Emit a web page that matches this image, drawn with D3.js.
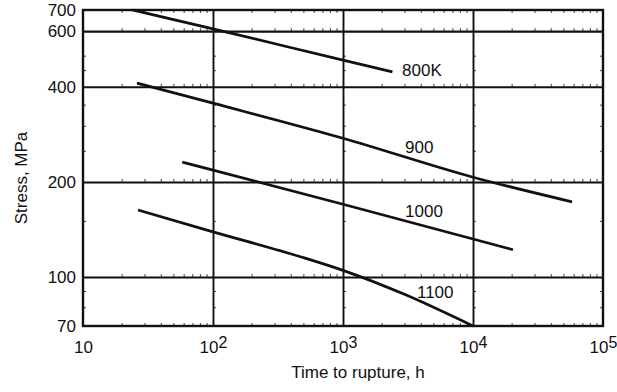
<!DOCTYPE html>
<html>
<head>
<meta charset="utf-8">
<script src="https://cdn.jsdelivr.net/npm/d3@7"></script>
<style>
  html, body { margin: 0; padding: 0; background: #fff; }
  svg { display: block; font-family: "Liberation Sans", Arial, Helvetica, sans-serif; }
</style>
</head>
<body>
<svg id="chart" width="617" height="392"></svg>
<script>
// ---- Data ----
const seriesNames = ["800K", "900", "1000", "1100"];
const times800  = [24, 100, 1000, 2400];
const stress800 = [700, 610, 486, 446];
const times900  = [26, 100, 1000, 10000, 57800];
const stress900 = [411, 355, 275, 207, 173];
const times1000  = [58, 100, 1000, 10000, 20300];
const stress1000 = [231, 218, 170, 132, 122];
const times1100  = [26.5, 100, 470, 1000, 3000, 10000];
const stress1100 = [163, 139, 116, 105, 88, 70];

const labelTimes  = [2845, 3000, 3000, 3706];
const labelStress = [433, 247, 155, 85.8];

const xTickValues = [10, 100, 1000, 10000, 100000];
const xTickBase   = ["10", "10", "10", "10", "10"];
const xTickExp    = ["", "2", "3", "4", "5"];
const yTickValues = [70, 100, 200, 400, 600, 700];
const yGridValues = [100, 200, 400, 600];
const xGridValues = [100, 1000, 10000];
const xMinor = [20, 30, 40, 50, 60, 70, 80, 90, 200, 300, 400, 500, 600, 700, 800, 900,
                2000, 3000, 4000, 5000, 6000, 7000, 8000, 9000, 20000, 30000, 40000, 50000, 60000, 70000, 80000, 90000];
const yMinor = [80, 90, 150, 250, 300, 350, 450, 500];

const xTitle = "Time to rupture, h";
const yTitle = "Stress, MPa";

// ---- Layout ----
const margin = { top: 10, right: 14, bottom: 66, left: 83 };
const W = 617, H = 392;
const iw = W - margin.left - margin.right;
const ih = H - margin.top - margin.bottom;

const svg = d3.select("#chart");
const g = svg.append("g").attr("transform", `translate(${margin.left},${margin.top})`);

const x = d3.scaleLog().domain([10, 100000]).range([0, iw]);
const y = d3.scaleLog().domain([70, 700]).range([ih, 0]);

const ink = "#111";

// minor ticks along horizontal grid lines and frame edges
const hLines = [70, 700].concat(yGridValues);
hLines.forEach(v => {
  g.append("g").selectAll("line").data(xMinor).join("line")
    .attr("x1", d => x(d)).attr("x2", d => x(d))
    .attr("y1", y(v)).attr("y2", y(v) + (v === 700 ? 3 : -3))
    .attr("stroke", ink).attr("stroke-width", 0.8);
});
[10, 100, 1000, 10000, 100000].forEach(v => {
  g.append("g").selectAll("line").data(yMinor).join("line")
    .attr("x1", x(v)).attr("x2", x(v) + (v === 100000 ? -3 : 3))
    .attr("y1", d => y(d)).attr("y2", d => y(d))
    .attr("stroke", ink).attr("stroke-width", 0.8);
});

// grid: horizontal
const yGrid = g.append("g").call(
  d3.axisLeft(y).tickValues(yGridValues).tickSize(-iw).tickFormat("")
);
yGrid.select(".domain").remove();
yGrid.selectAll(".tick line").attr("stroke", ink).attr("stroke-width", 2.1);

// grid: vertical
const xGrid = g.append("g").attr("transform", `translate(0,${ih})`).call(
  d3.axisBottom(x).tickValues(xGridValues).tickSize(-ih).tickFormat("")
);
xGrid.select(".domain").remove();
xGrid.selectAll(".tick line").attr("stroke", ink).attr("stroke-width", 1.9);

// frame
g.append("rect").attr("x", 0).attr("y", 0).attr("width", iw).attr("height", ih)
  .attr("fill", "none").attr("stroke", ink).attr("stroke-width", 2.4);

// y axis labels
const yAxis = g.append("g").call(
  d3.axisLeft(y).tickValues(yTickValues).tickSize(0).tickPadding(7).tickFormat(d3.format("d"))
);
yAxis.select(".domain").remove();
yAxis.selectAll(".tick text").attr("font-size", 17).attr("fill", ink)
  .attr("font-family", "Liberation Sans, Arial, sans-serif");

// x axis labels with superscripts
const xAxis = g.append("g").attr("transform", `translate(0,${ih})`).call(
  d3.axisBottom(x).tickValues(xTickValues).tickSize(0).tickPadding(0).tickFormat("")
);
xAxis.select(".domain").remove();
xAxis.selectAll(".tick").each(function(d, i) {
  const t = d3.select(this).append("text")
    .attr("y", 27).attr("text-anchor", "middle")
    .attr("font-size", 17).attr("fill", ink);
  t.append("tspan").text(xTickBase[i]);
  if (xTickExp[i]) {
    t.append("tspan").attr("dy", -5).attr("font-size", 16).text(xTickExp[i]);
  }
});

// curves
const seriesData = [
  d3.zip(times800, stress800),
  d3.zip(times900, stress900),
  d3.zip(times1000, stress1000),
  d3.zip(times1100, stress1100)
];
const line = d3.line().x(d => x(d[0])).y(d => y(d[1])).curve(d3.curveMonotoneX);
g.append("g").selectAll("path").data(seriesData).join("path")
  .attr("d", line).attr("fill", "none").attr("stroke", ink)
  .attr("stroke-width", 2.7).attr("stroke-linecap", "butt");

// curve labels
g.append("g").selectAll("text").data(seriesNames).join("text")
  .attr("x", (d, i) => x(labelTimes[i]))
  .attr("y", (d, i) => y(labelStress[i]))
  .attr("font-size", 17).attr("fill", ink)
  .text(d => d);

// axis titles
svg.append("text")
  .attr("x", margin.left + x(1000) + 15).attr("y", 378)
  .attr("text-anchor", "middle").attr("font-size", 17).attr("fill", ink)
  .text(xTitle);
svg.append("text")
  .attr("transform", `translate(27,${margin.top + ih / 2 + 10}) rotate(-90)`)
  .attr("text-anchor", "middle").attr("font-size", 17).attr("fill", ink)
  .text(yTitle);
</script>
</body>
</html>
